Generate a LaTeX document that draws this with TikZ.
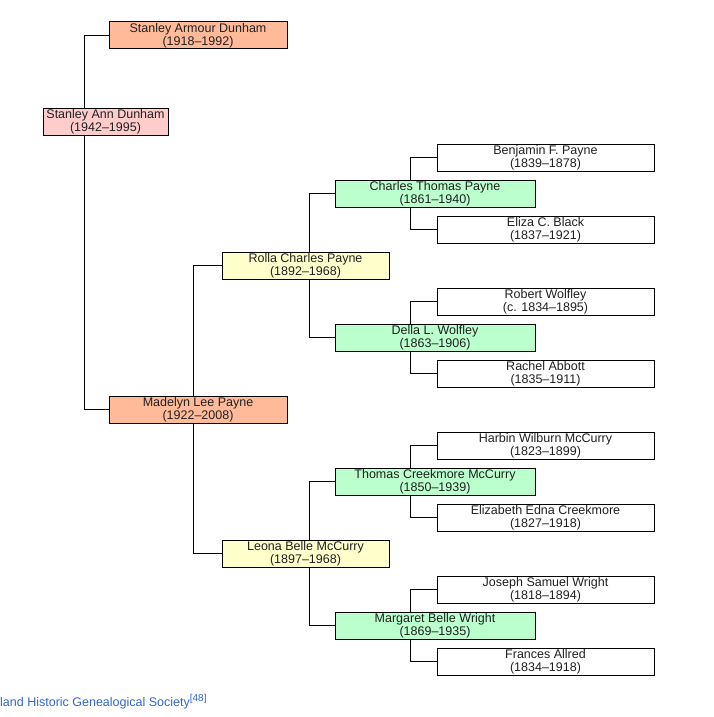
\documentclass[tikz,border=0pt]{standalone}
\usepackage{fontspec}
\setmainfont{Liberation Sans}
\usetikzlibrary{backgrounds}
\definecolor{peach}{RGB}{255,187,153}
\definecolor{pinkish}{RGB}{255,204,204}
\definecolor{paleyellow}{RGB}{255,255,204}
\definecolor{palegreen}{RGB}{187,255,204}
\definecolor{inktext}{RGB}{32,33,34}
\definecolor{linkblue}{RGB}{51,102,204}
\begin{document}
\begin{tikzpicture}[x=1pt,y=-1pt,
  person/.style={draw=black,line width=1pt,minimum height=27pt,inner sep=0pt,align=center,
    text=inktext,font=\fontsize{12.5}{13}\selectfont},
  gen1/.style={person,fill=peach,minimum width=178pt},
  gen2/.style={person,fill=paleyellow,minimum width=167pt},
  gen3/.style={person,fill=palegreen,minimum width=200pt},
  gen4/.style={person,fill=white,minimum width=217pt},
  link/.style={draw=black,line width=1pt}]
  \useasboundingbox (0,0) rectangle (714,717);
  % root and parents
  \node[person,fill=pinkish,minimum width=125pt] (ann) at (105.5,121.5) {Stanley Ann Dunham\\(1942--1995)};
  \node[gen1] (armour) at (198,35.5) {Stanley Armour Dunham\\(1918--1992)};
  \node[gen1] (madelyn) at (198,409.5) {Madelyn Lee Payne\\(1922--2008)};
  % grandparents
  \node[gen2] (rolla) at (305.5,265.5) {Rolla Charles Payne\\(1892--1968)};
  \node[gen2] (leona) at (305.5,553.5) {Leona Belle McCurry\\(1897--1968)};
  % great-grandparents
  \node[gen3] (charles) at (435,193.5) {Charles Thomas Payne\\(1861--1940)};
  \node[gen3] (della) at (435,337.5) {Della L. Wolfley\\(1863--1906)};
  \node[gen3] (thomas) at (435,481.5) {Thomas Creekmore McCurry\\(1850--1939)};
  \node[gen3] (margaret) at (435,625.5) {Margaret Belle Wright\\(1869--1935)};
  % great-great-grandparents
  \node[gen4] (benjamin) at (545.5,157.5) {Benjamin F. Payne\\(1839--1878)};
  \node[gen4] (eliza) at (545.5,229.5) {Eliza C. Black\\(1837--1921)};
  \node[gen4] (robert) at (545.5,301.5) {Robert Wolfley\\(c. 1834--1895)};
  \node[gen4] (rachel) at (545.5,373.5) {Rachel Abbott\\(1835--1911)};
  \node[gen4] (harbin) at (545.5,445.5) {Harbin Wilburn McCurry\\(1823--1899)};
  \node[gen4] (elizabeth) at (545.5,517.5) {Elizabeth Edna Creekmore\\(1827--1918)};
  \node[gen4] (joseph) at (545.5,589.5) {Joseph Samuel Wright\\(1818--1894)};
  \node[gen4] (frances) at (545.5,661.5) {Frances Allred\\(1834--1918)};
  % connectors behind the boxes
  \begin{scope}[on background layer]
    \draw[link] (armour.west) -- ++(-24,0) |- (madelyn.west);
    \draw[link] (rolla.west) -- ++(-28,0) |- (leona.west);
    \draw[link] (charles.west) -- ++(-25,0) |- (della.west);
    \draw[link] (thomas.west) -- ++(-25,0) |- (margaret.west);
    \draw[link] (benjamin.west) -- ++(-26,0) |- (eliza.west);
    \draw[link] (robert.west) -- ++(-26,0) |- (rachel.west);
    \draw[link] (harbin.west) -- ++(-26,0) |- (elizabeth.west);
    \draw[link] (joseph.west) -- ++(-26,0) |- (frances.west);
  \end{scope}
  \node[anchor=base west,inner sep=0pt,text=linkblue,font=\fontsize{12.5}{13}\selectfont] (source) at (0,706)
    {land Historic Genealogical Society\raisebox{5pt}{\fontsize{10}{10}\selectfont[48]}};
\end{tikzpicture}
\end{document}
